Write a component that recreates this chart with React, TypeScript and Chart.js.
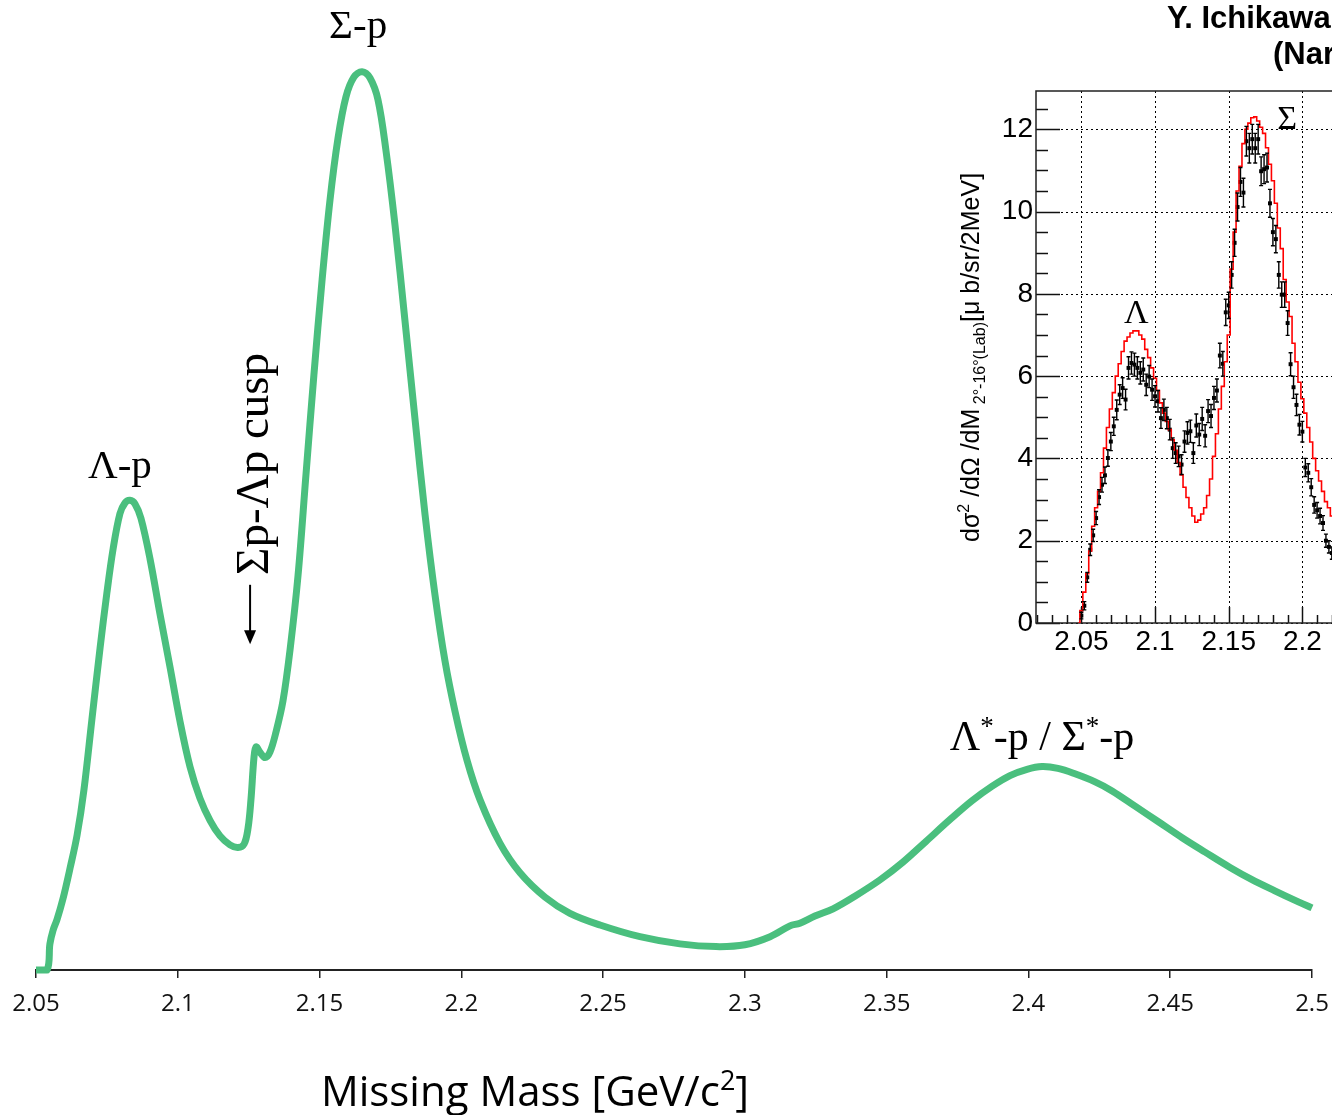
import React, { useEffect, useRef } from "react";
import { Chart, registerables } from "chart.js";

Chart.register(...registerables);

// ---------- main spectrum (green curve) ----------
const massGeV = [2.05, 2.0539, 2.0549, 2.056, 2.0574, 2.0595, 2.062, 2.0645, 2.0669, 2.0697, 2.0726, 2.075, 2.0772, 2.0796, 2.0814, 2.0831, 2.0849, 2.087, 2.0902, 2.0937, 2.0973, 2.1008, 2.1043, 2.1078, 2.1114, 2.1149, 2.1184, 2.1212, 2.1234, 2.1248, 2.1258, 2.1269, 2.1276, 2.129, 2.1308, 2.1325, 2.1346, 2.1371, 2.1396, 2.1424, 2.1452, 2.148, 2.1509, 2.1537, 2.1565, 2.1593, 2.1621, 2.165, 2.1678, 2.1706, 2.1734, 2.1766, 2.1801, 2.1837, 2.1872, 2.1907, 2.1942, 2.1978, 2.202, 2.2066, 2.2136, 2.2207, 2.2295, 2.2383, 2.2489, 2.263, 2.2771, 2.2898, 2.3, 2.3089, 2.3159, 2.3194, 2.3247, 2.3311, 2.3388, 2.3476, 2.3558, 2.3639, 2.3723, 2.3801, 2.3871, 2.3935, 2.3995, 2.4048, 2.4104, 2.4164, 2.4235, 2.4295, 2.4376, 2.4457, 2.4542, 2.4623, 2.4711, 2.4785, 2.4869, 2.495, 2.5];
const yieldAU = [0, 0, 2.9, 4.4, 5.6, 7.9, 11.3, 15.0, 20.0, 27.8, 35.8, 41.9, 46.8, 50.7, 51.9, 52.2, 51.8, 50.2, 45.7, 39.6, 33.6, 27.6, 22.6, 19.1, 16.6, 14.9, 13.9, 13.6, 14.0, 15.8, 18.9, 23.7, 24.8, 24.2, 23.6, 24.2, 26.4, 29.9, 35.6, 43.8, 55.0, 66.1, 76.7, 85.6, 92.4, 97.0, 99.2, 99.8, 99.1, 96.7, 91.1, 82.8, 72.2, 61.1, 50.6, 41.7, 34.4, 28.7, 23.3, 18.9, 14.1, 10.8, 8.1, 6.3, 5.0, 3.7, 2.9, 2.6, 2.8, 3.7, 4.9, 5.2, 6.0, 6.8, 8.2, 10.0, 12.0, 14.3, 16.7, 18.8, 20.4, 21.6, 22.3, 22.6, 22.4, 21.8, 20.9, 19.9, 18.2, 16.5, 14.7, 13.1, 11.4, 10.1, 8.8, 7.6, 6.9];
const xTickValues = [2.05, 2.1, 2.15, 2.2, 2.25, 2.3, 2.35, 2.4, 2.45, 2.5];

// ---------- inset (measured data vs. model) ----------
const insetMass = [
  2.048, 2.050, 2.052, 2.054, 2.056, 2.058, 2.060, 2.062, 2.064, 2.066,
  2.068, 2.070, 2.072, 2.074, 2.076, 2.078, 2.080, 2.082, 2.084, 2.086,
  2.088, 2.090, 2.092, 2.094, 2.096, 2.098, 2.100, 2.102, 2.104, 2.106,
  2.108, 2.110, 2.112, 2.114, 2.116, 2.118, 2.120, 2.122, 2.124, 2.126,
  2.128, 2.130, 2.132, 2.134, 2.136, 2.138, 2.140, 2.142, 2.144, 2.146,
  2.148, 2.150, 2.152, 2.154, 2.156, 2.158, 2.160, 2.162, 2.164, 2.166,
  2.168, 2.170, 2.172, 2.174, 2.176, 2.178, 2.180, 2.182, 2.184, 2.186,
  2.188, 2.190, 2.192, 2.194, 2.196, 2.198, 2.200, 2.202, 2.204, 2.206,
  2.208, 2.210, 2.212, 2.214, 2.216, 2.218, 2.220, 2.222,
];
const insetModel = [
  0, 0.3, 0.75, 1.2, 1.75, 2.35, 2.8, 3.2, 3.65, 4.25,
  4.75, 5.2, 5.6, 6.0, 6.3, 6.6, 6.85, 6.95, 7.05, 7.1,
  7.1, 7.0, 6.9, 6.65, 6.45, 6.2, 5.95, 5.65, 5.35, 5.1,
  4.9, 4.7, 4.45, 4.2, 3.9, 3.6, 3.3, 3.05, 2.8, 2.6,
  2.45, 2.5, 2.65, 2.8, 3.1, 3.5, 4.05, 4.6, 5.2, 5.75,
  6.35, 7.0, 8.6, 9.5, 10.5, 11.1, 11.65, 12.0, 12.15, 12.28,
  12.3, 12.2, 12.05, 11.9, 11.55, 11.15, 10.75, 10.2, 9.6, 9.1,
  8.35, 7.8, 7.45, 6.8, 6.35, 5.85, 5.45, 5.1, 4.75, 4.4,
  4.0, 3.7, 3.45, 3.2, 2.95, 2.8, 2.6, 2.45,
];
const insetData = [
  null, 0.18, 0.42, 1.11, 1.78, 2.13, 2.55, 3.06, 3.36, 3.59,
  4.01, 4.41, 4.78, 5.18, 5.55, 5.71, 5.43, 6.2, 6.32, 6.28,
  6.2, 6.08, 6.16, 5.79, 5.99, 5.67, 5.51, 5.39, 4.98, 5.18,
  4.98, 4.7, 4.25, 4.13, 4.05, 3.85, 4.41, 4.62, 4.66, 4.13,
  4.8, 4.58, 4.96, 4.55, 5.15, 5.03, 5.47, 5.65, 6.5, 6.3,
  7.55, 7.72, 8.46, 9.24, 10.11, 10.72, 10.46, 11.71, 11.54, 11.76,
  11.54, 11.76, 10.98, 11.03, 11.07, 10.2, 9.5, 9.33, 8.46, 7.98,
  7.98, 7.29, 6.29, 5.73, 5.3, 4.82, 4.65, 3.78, 3.65, 3.3,
  2.87, 2.74, 2.6, 2.43, 2.0, 1.85, 1.7, 1.6,
];
const insetErr = [
  0, 0.08, 0.1, 0.12, 0.14, 0.15, 0.16, 0.18, 0.18, 0.2,
  0.2, 0.22, 0.22, 0.24, 0.24, 0.25, 0.25, 0.27, 0.27, 0.28,
  0.27, 0.27, 0.28, 0.26, 0.27, 0.26, 0.26, 0.26, 0.25, 0.26,
  0.26, 0.25, 0.25, 0.25, 0.25, 0.24, 0.26, 0.27, 0.27, 0.25,
  0.28, 0.27, 0.28, 0.27, 0.28, 0.28, 0.28, 0.28, 0.3, 0.3,
  0.32, 0.32, 0.32, 0.33, 0.34, 0.35, 0.35, 0.36, 0.36, 0.36,
  0.36, 0.36, 0.35, 0.35, 0.35, 0.34, 0.33, 0.33, 0.32, 0.31,
  0.31, 0.3, 0.28, 0.27, 0.26, 0.25, 0.25, 0.22, 0.22, 0.21,
  0.2, 0.19, 0.19, 0.18, 0.16, 0.15, 0.15, 0.14,
];
const insetXTickValues = [2.05, 2.1, 2.15, 2.2, 2.25, 2.3, 2.35];
const insetYTickValues = [0, 2, 4, 6, 8, 10, 12];

const GREEN = "rgb(74,191,126)";
const SERIF = '"Liberation Serif", "Times New Roman", serif';
const ARIAL = '"Liberation Sans", Arial, sans-serif';
const CALIBRI = '"Open Sans", sans-serif';

function fmt(v: number) {
  return String(+Number(v).toFixed(2));
}

function drawSegments(ctx: CanvasRenderingContext2D, segs: { t: string; font: string; dy: number }[], x: number, y: number, align: "center" | "left") {
  let total = 0;
  segs.forEach((s) => { ctx.font = s.font; total += ctx.measureText(s.t).width; });
  let cx = align === "center" ? x - total / 2 : x;
  ctx.textAlign = "left";
  segs.forEach((s) => {
    ctx.font = s.font;
    ctx.fillText(s.t, cx, y + s.dy);
    cx += ctx.measureText(s.t).width;
  });
}

const mainDecor = {
  id: "mainDecor",
  afterDraw(chart: any) {
    const { ctx, scales, chartArea } = chart;
    const x = scales.x, y = scales.y;
    ctx.save();
    ctx.fillStyle = "#000";
    ctx.textBaseline = "alphabetic";
    ctx.textAlign = "center";
    ctx.font = `41px ${SERIF}`;
    ctx.fillText("Λ-p", x.getPixelForValue(2.0796), y.getPixelForValue(54.7));
    ctx.fillText("Σ-p", x.getPixelForValue(2.1636), y.getPixelForValue(103.6));
    drawSegments(ctx, [
      { t: "Λ", font: `42px ${SERIF}`, dy: 0 },
      { t: "*", font: `27px ${SERIF}`, dy: -15 },
      { t: "-p / Σ", font: `42px ${SERIF}`, dy: 0 },
      { t: "*", font: `27px ${SERIF}`, dy: -15 },
      { t: "-p", font: `42px ${SERIF}`, dy: 0 },
    ], x.getPixelForValue(2.4048), y.getPixelForValue(24.4), "center");

    // cusp label, rotated
    ctx.save();
    ctx.translate(x.getPixelForValue(2.1318), y.getPixelForValue(43.9));
    ctx.rotate(-Math.PI / 2);
    ctx.textAlign = "left";
    ctx.font = `47px ${SERIF}`;
    ctx.fillText("Σp-Λp cusp", 0, 0);
    ctx.restore();

    // arrow pointing down to the cusp
    const ax = x.getPixelForValue(2.1255);
    const ay0 = y.getPixelForValue(42.8);
    const ay1 = y.getPixelForValue(36.2);
    ctx.strokeStyle = "#000";
    ctx.lineWidth = 2;
    ctx.beginPath();
    ctx.moveTo(ax, ay0);
    ctx.lineTo(ax, ay1 - 10);
    ctx.stroke();
    ctx.beginPath();
    ctx.moveTo(ax - 6, ay1 - 14);
    ctx.lineTo(ax + 6, ay1 - 14);
    ctx.lineTo(ax, ay1);
    ctx.closePath();
    ctx.fill();

    // axis title
    drawSegments(ctx, [
      { t: "Missing Mass [GeV/c", font: `42px ${CALIBRI}`, dy: 0 },
      { t: "2", font: `27px ${CALIBRI}`, dy: -16 },
      { t: "]", font: `42px ${CALIBRI}`, dy: 0 },
    ], 535, chartArea.bottom + 136, "center");
    ctx.restore();
  },
};

const insetDecor = {
  id: "insetDecor",
  beforeDatasetsDraw(chart: any) {
    const { ctx, chartArea: a, scales } = chart;
    const x = scales.x, y = scales.y;
    ctx.save();
    // dotted grid
    ctx.strokeStyle = "#000";
    ctx.lineWidth = 1;
    ctx.setLineDash([2, 3]);
    insetXTickValues.forEach((v) => {
      const px = Math.round(x.getPixelForValue(v)) + 0.5;
      ctx.beginPath(); ctx.moveTo(px, a.top); ctx.lineTo(px, a.bottom); ctx.stroke();
    });
    insetYTickValues.forEach((v) => {
      const py = Math.round(y.getPixelForValue(v)) + 0.5;
      ctx.beginPath(); ctx.moveTo(a.left, py); ctx.lineTo(a.right, py); ctx.stroke();
    });
    ctx.setLineDash([]);
    // ticks on y axis (major every 2, minor every 0.5)
    ctx.strokeStyle = "#111";
    ctx.lineWidth = 1.5;
    for (let k = 0; k <= 26; k++) {
      const v = k * 0.5;
      if (v > y.max) break;
      const py = Math.round(y.getPixelForValue(v)) + 0.5;
      const len = k % 4 === 0 ? 24 : 12;
      ctx.beginPath(); ctx.moveTo(a.left, py); ctx.lineTo(a.left + len, py); ctx.stroke();
    }
    // ticks on x axis (major 0.05, minor 0.01)
    for (let k = 202; k <= 240; k++) {
      const v = k / 100;
      if (v < x.min || v > x.max) continue;
      const px = Math.round(x.getPixelForValue(v)) + 0.5;
      const len = k % 5 === 0 ? 16 : 8;
      ctx.beginPath(); ctx.moveTo(px, a.bottom); ctx.lineTo(px, a.bottom - len); ctx.stroke();
    }
    // frame
    ctx.strokeStyle = "#222";
    ctx.lineWidth = 1.5;
    ctx.strokeRect(a.left, a.top, a.right - a.left, a.bottom - a.top);
    ctx.restore();
  },
  afterDatasetsDraw(chart: any) {
    const { ctx, scales } = chart;
    const x = scales.x, y = scales.y;
    ctx.save();
    ctx.strokeStyle = "#000";
    ctx.lineWidth = 1.4;
    insetData.forEach((v, i) => {
      if (v == null) return;
      const px = x.getPixelForValue(insetMass[i]);
      const t = y.getPixelForValue(v + insetErr[i]);
      const b = y.getPixelForValue(v - insetErr[i]);
      ctx.beginPath();
      ctx.moveTo(px, t); ctx.lineTo(px, b);
      ctx.moveTo(px - 2, t); ctx.lineTo(px + 2, t);
      ctx.moveTo(px - 2, b); ctx.lineTo(px + 2, b);
      ctx.stroke();
    });
    // peak labels in the inset
    ctx.fillStyle = "#000";
    ctx.textAlign = "center";
    ctx.textBaseline = "alphabetic";
    ctx.font = `34px ${SERIF}`;
    ctx.fillText("Λ", x.getPixelForValue(2.0873), y.getPixelForValue(7.29));
    ctx.fillText("Σ", x.getPixelForValue(2.1897), y.getPixelForValue(12.0));

    // y-axis title (rotated)
    ctx.save();
    ctx.translate(79, 542);
    ctx.rotate(-Math.PI / 2);
    drawSegments(ctx, [
      { t: "dσ", font: `25px ${ARIAL}`, dy: 0 },
      { t: "2", font: `16px ${ARIAL}`, dy: -10 },
      { t: " /dΩ /dM", font: `25px ${ARIAL}`, dy: 0 },
      { t: " 2°-16°(Lab)", font: `16px ${ARIAL}`, dy: 6 },
      { t: "[μ b/sr/2MeV]", font: `25px ${ARIAL}`, dy: 0 },
    ], 0, 0, "left");
    ctx.restore();

    // reference heading
    ctx.textAlign = "left";
    ctx.font = `bold 31px ${ARIAL}`;
    ctx.fillText("Y. Ichikawa et al.", 267, 28);
    ctx.fillText("(Nara W. U.)", 373, 64);
    ctx.restore();
  },
};

export default function App() {
  const mainRef = useRef<HTMLCanvasElement | null>(null);
  const insetRef = useRef<HTMLCanvasElement | null>(null);

  useEffect(() => {
    const main = new Chart(mainRef.current as HTMLCanvasElement, {
      type: "line",
      data: {
        datasets: [
          {
            data: massGeV.map((m, i) => ({ x: m, y: yieldAU[i] })),
            borderColor: GREEN,
            borderWidth: 7,
            pointRadius: 0,
            tension: 0.35,
            fill: false,
            clip: false,
            borderCapStyle: "butt",
            borderJoinStyle: "round",
          } as any,
        ],
      },
      options: {
        animation: false,
        responsive: false,
        maintainAspectRatio: false,
        layout: { padding: { left: 36, right: 20, top: 70, bottom: 0 } },
        plugins: { legend: { display: false }, tooltip: { enabled: false } },
        scales: {
          x: {
            type: "linear",
            min: 2.05,
            max: 2.5,
            afterBuildTicks: (s: any) => { s.ticks = xTickValues.map((v) => ({ value: v })); },
            afterFit: (s: any) => { s.height = 145; s.paddingLeft = 0; s.paddingRight = 0; },
            ticks: {
              callback: (v: any) => fmt(v),
              font: { family: CALIBRI, size: 24 },
              color: "#111",
              padding: 12,
              maxRotation: 0,
              autoSkip: false,
            },
            grid: { drawOnChartArea: false, drawTicks: true, tickLength: 8, color: "#222", lineWidth: 1.5 },
            border: { display: true, color: "#222", width: 2 },
          },
          y: { display: false, min: 0, max: 100 },
        },
      } as any,
      plugins: [mainDecor],
    });

    const inset = new Chart(insetRef.current as HTMLCanvasElement, {
      type: "line",
      data: {
        datasets: [
          {
            label: "model",
            data: insetMass.map((m, i) => ({ x: m, y: insetModel[i] })),
            stepped: "middle",
            borderColor: "#ff0000",
            borderWidth: 1.6,
            pointRadius: 0,
            fill: false,
          } as any,
          {
            label: "data",
            data: insetMass.map((m, i) => ({ x: m, y: insetData[i] })),
            showLine: false,
            pointStyle: "rect",
            pointRadius: 2.8,
            backgroundColor: "#000",
            borderColor: "#000",
            borderWidth: 0,
          } as any,
        ],
      },
      options: {
        animation: false,
        responsive: false,
        maintainAspectRatio: false,
        layout: { padding: { left: 0, right: 0, top: 91, bottom: 0 } },
        plugins: { legend: { display: false }, tooltip: { enabled: false } },
        scales: {
          x: {
            type: "linear",
            min: 2.0192,
            max: 2.3993,
            afterBuildTicks: (s: any) => { s.ticks = insetXTickValues.map((v) => ({ value: v })); },
            afterFit: (s: any) => { s.height = 57; s.paddingLeft = 0; s.paddingRight = 0; },
            grid: { display: false, drawTicks: false },
            border: { display: false },
            ticks: {
              callback: (v: any) => fmt(v),
              font: { family: ARIAL, size: 28 },
              color: "#000",
              padding: 2,
              maxRotation: 0,
              autoSkip: false,
            },
          },
          y: {
            min: 0,
            max: 12.93,
            afterBuildTicks: (s: any) => { s.ticks = insetYTickValues.map((v) => ({ value: v })); },
            afterFit: (s: any) => { s.width = 136; s.paddingTop = 0; s.paddingBottom = 0; },
            grid: { display: false, drawTicks: false },
            border: { display: false },
            ticks: {
              callback: (v: any) => String(v),
              font: { family: ARIAL, size: 28 },
              color: "#000",
              padding: 3,
            },
          },
        },
      } as any,
      plugins: [insetDecor],
    });

    return () => {
      main.destroy();
      inset.destroy();
    };
  }, []);

  return (
    <div style={{ position: "fixed", left: 0, top: 0, width: 1332, height: 1115, overflow: "hidden", background: "#fff" }}>
      <canvas ref={mainRef} width={1332} height={1115} style={{ position: "absolute", left: 0, top: 0, width: 1332, height: 1115 }} />
      <canvas ref={insetRef} width={700} height={680} style={{ position: "absolute", left: 900, top: 0, width: 700, height: 680 }} />
    </div>
  );
}
